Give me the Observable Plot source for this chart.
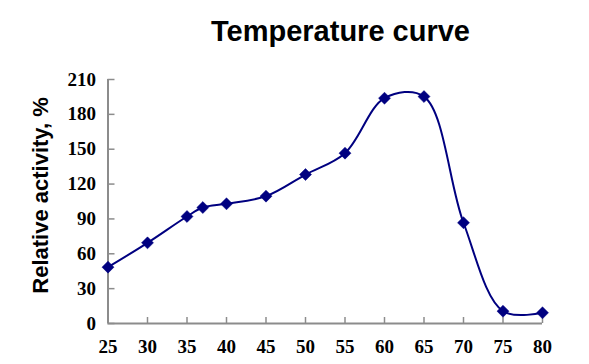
<!DOCTYPE html>
<html>
<head>
<meta charset="utf-8">
<script src="https://cdn.jsdelivr.net/npm/d3@7"></script>
<script src="https://cdn.jsdelivr.net/npm/@observablehq/plot@0.6"></script>
<style>
  body { margin: 0; background: #fff; }
  #wrap { position: relative; width: 589px; height: 364px; }
  #title { position: absolute; left: 0; top: 15px; width: 589px; padding-left: 92px; box-sizing: border-box; text-align: center;
    font: bold 29px "Liberation Sans", Arial, sans-serif; color: #000; white-space: nowrap; }
  #chart { position: absolute; left: 0; top: 0; }
</style>
</head>
<body>
<div id="wrap">
  <div id="chart"></div>
  <div id="title">Temperature curve</div>
</div>
<script>
const temperature = [25, 30, 35, 37, 40, 45, 50, 55, 60, 65, 70, 75, 80];
const activity = [48.5, 69.4, 92.1, 99.8, 103, 109.6, 128.2, 146.6, 193.9, 195.3, 86.7, 10.6, 9.2];
const xTicks = [25, 30, 35, 40, 45, 50, 55, 60, 65, 70, 75, 80];
const yTicks = [0, 30, 60, 90, 120, 150, 180, 210];

const data = temperature.map((t, i) => ({t, a: activity[i]}));
const navy = "#000080";
const axisColor = "#8c8c8c";
const tickFont = "Liberation Serif";

const chart = Plot.plot({
  width: 589,
  height: 364,
  marginTop: 79,
  marginBottom: 41,
  marginLeft: 107.5,
  marginRight: 47,
  style: {background: "#fff", color: "#000"},
  x: {domain: [25, 80]},
  y: {domain: [0, 210]},
  marks: [
    Plot.axisX({ticks: xTicks, tickSize: -6, tickPadding: 22, stroke: axisColor, strokeWidth: 1.5,
      fontSize: 19, fontFamily: tickFont, fontWeight: "bold", fill: "#000", label: null, tickFormat: d => d}),
    Plot.axisY({ticks: yTicks, tickSize: -7, tickPadding: 19, stroke: axisColor, strokeWidth: 1.5,
      fontSize: 19, fontFamily: tickFont, fontWeight: "bold", fill: "#000", label: null, tickFormat: d => d}),
    Plot.ruleY([0], {stroke: axisColor, strokeWidth: 2}),
    Plot.ruleX([25], {stroke: axisColor, strokeWidth: 2}),
    Plot.line(data, {x: "t", y: "a", stroke: navy, strokeWidth: 2, curve: "catmull-rom"}),
    Plot.dot(data, {x: "t", y: "a", symbol: "diamond2", r: 5.4, fill: navy, stroke: navy, strokeWidth: 0.5}),
    Plot.text(["Relative activity, %"], {frameAnchor: "left", dx: -67, dy: -6, rotate: -90, fontSize: 22, fontWeight: "bold",
      fontFamily: "Liberation Sans", fill: "#000", textAnchor: "middle"})
  ]
});
document.getElementById("chart").appendChild(chart);
</script>
</body>
</html>
